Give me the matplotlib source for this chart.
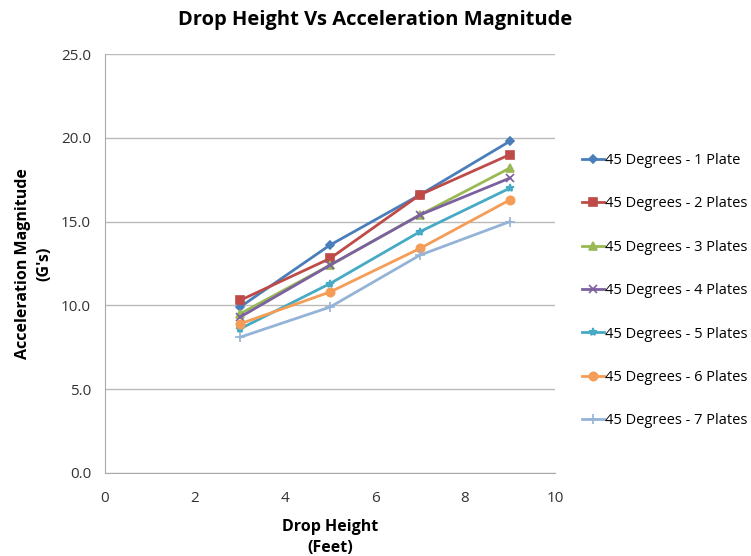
import matplotlib.pyplot as plt

plt.rcParams['font.family'] = ['Open Sans', 'DejaVu Sans']

# Data
drop_height = [3, 5, 7, 9]
plate_1 = [9.9, 13.6, 16.6, 19.8]
plate_2 = [10.3, 12.8, 16.6, 19.0]
plate_3 = [9.5, 12.4, 15.4, 18.2]
plate_4 = [9.3, 12.4, 15.4, 17.6]
plate_5 = [8.6, 11.3, 14.4, 17.0]
plate_6 = [8.9, 10.8, 13.4, 16.3]
plate_7 = [8.1, 9.9, 13.0, 15.0]

labels = ['45 Degrees - 1 Plate', '45 Degrees - 2 Plates', '45 Degrees - 3 Plates',
          '45 Degrees - 4 Plates', '45 Degrees - 5 Plates', '45 Degrees - 6 Plates',
          '45 Degrees - 7 Plates']
series = [plate_1, plate_2, plate_3, plate_4, plate_5, plate_6, plate_7]
colors = ['#4A7EBB', '#BE4B48', '#98B954', '#7D60A0', '#46AAC5', '#F59D56', '#95B3D7']
markers = ['D', 's', '^', 'x', '*', 'o', '+']
msizes = [4, 6, 6, 6, 6, 6, 7]

fig = plt.figure(figsize=(7.51, 5.56), dpi=100)
ax = fig.add_axes([105 / 751, 1 - 473 / 556, 450 / 751, 419 / 556])

for vals, lab, c, m, ms in zip(series, labels, colors, markers, msizes):
    ax.plot(drop_height, vals, color=c, marker=m, markersize=ms, linewidth=2,
            label=lab, markeredgewidth=1.2)

ax.set_xlim(0, 10)
ax.set_ylim(0, 25)
ax.set_xticks([0, 2, 4, 6, 8, 10])
ax.set_yticks([0, 5, 10, 15, 20, 25])
ax.set_yticklabels(['0.0', '5.0', '10.0', '15.0', '20.0', '25.0'])
ax.tick_params(length=0, labelsize=11, colors='#333333')
ax.tick_params(axis='x', pad=13)
ax.tick_params(axis='y', pad=10)
ax.yaxis.grid(True, color='#BBBBBB', linewidth=1)
ax.set_axisbelow(True)
for s in ['top', 'right']:
    ax.spines[s].set_visible(False)
for s in ['left', 'bottom']:
    ax.spines[s].set_color('#AAAAAA')

ax.set_xlabel('Drop Height\n(Feet)', fontsize=11.5, fontweight='bold', labelpad=9,
              linespacing=1.45)
ax.set_ylabel("Acceleration Magnitude\n(G's)", fontsize=11.5, fontweight='bold', labelpad=6,
              linespacing=1.45)
fig.text(0.5, 1 - 20 / 556, 'Drop Height Vs Acceleration Magnitude', ha='center', va='center',
         fontsize=14.5, fontweight='bold')

fig.legend(loc='upper left', bbox_to_anchor=(576 / 751, 1 - 147 / 556), frameon=False,
           fontsize=10.5, labelspacing=1.95, handlelength=1.5, handletextpad=0.1,
           borderaxespad=0)

fig.savefig('out.png', dpi=100)
